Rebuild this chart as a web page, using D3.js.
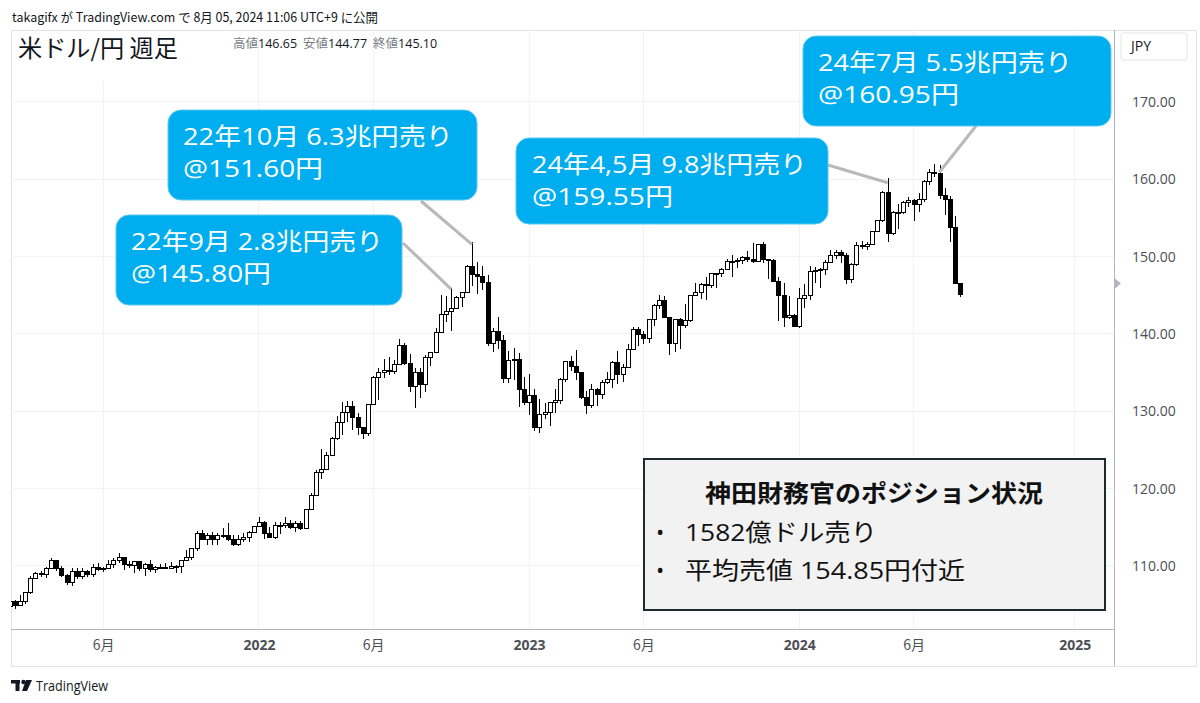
<!DOCTYPE html>
<html>
<head>
<meta charset="utf-8">
<script src="https://cdn.jsdelivr.net/npm/d3@7"></script>
<style>
  body { margin: 0; background: #fff; }
  text { font-family: "Open Sans", "Noto Sans CJK JP", sans-serif; }
  .jp { font-family: "Noto Sans CJK JP", "Open Sans", sans-serif; }
</style>
</head>
<body>
<div id="chart"></div>
<script>
// weekly USD/JPY candles, one per Monday starting here
const firstWeek = "2021-02-01";

const opens = [
  // 2021
  104.70,105.38,104.95,105.42,106.56,108.33,109.03,108.87,109.66,110.68,109.67,108.77,107.88,109.30,108.59,109.35,
  108.95,109.84,109.51,109.67,110.21,110.77,111.05,110.14,110.07,110.55,109.72,110.25,109.58,109.79,109.84,109.71,
  109.94,109.92,110.74,111.05,112.21,114.21,113.48,113.96,113.41,113.91,114.00,113.38,112.81,113.46,113.70,114.38,
  // 2022
  115.08,115.56,114.18,113.68,115.25,115.24,115.43,114.98,115.55,114.85,117.31,119.16,122.05,122.51,124.33,126.42,
  128.50,129.83,130.57,129.23,127.87,127.11,130.86,134.40,134.99,135.22,135.21,136.09,138.54,136.13,133.27,134.99,
  133.43,136.92,137.64,140.20,142.55,142.91,143.35,144.73,145.32,148.71,147.66,147.48,146.63,138.79,140.38,139.15,
  134.29,136.60,136.67,132.86,
  // 2023
  131.12,132.08,127.88,129.60,129.85,131.18,131.37,134.16,136.43,135.84,135.00,131.78,130.73,132.80,132.16,133.78,
  134.17,136.27,134.82,135.72,137.97,140.60,139.95,139.37,141.82,143.71,144.32,142.10,138.80,141.82,141.16,141.76,
  144.96,145.40,146.41,146.22,147.84,147.83,148.36,149.37,149.32,149.56,149.86,149.66,149.39,151.51,149.57,149.44,
  146.80,144.94,142.16,142.41,
  // 2024
  141.03,144.63,144.92,148.13,148.16,148.37,149.29,150.21,150.50,150.10,147.06,149.04,151.43,151.35,151.62,153.27,
  154.64,158.34,152.97,155.77,155.67,156.99,157.29,156.74,157.37,159.78,160.86,160.74,157.85,157.45,153.75,146.53
];

const highs = [
  // 2021
  105.77,105.65,106.22,106.69,108.64,109.23,109.36,109.85,110.97,110.75,109.96,108.93,109.70,109.70,109.79,109.46,
  110.20,110.33,109.82,110.82,110.97,111.66,111.05,110.70,110.60,110.59,110.37,110.80,110.01,110.25,110.42,110.45,
  110.16,110.79,112.07,112.25,114.47,114.70,114.31,114.44,114.30,114.97,115.52,113.95,113.95,114.26,114.50,115.22,
  // 2022
  116.35,115.83,114.98,115.69,115.64,116.34,115.89,115.76,115.81,117.35,119.40,122.44,125.09,124.69,126.68,129.40,
  131.25,131.35,131.34,129.79,128.00,130.98,134.56,135.59,136.71,137.00,136.58,139.39,138.88,137.46,135.59,135.58,
  137.22,137.69,140.80,144.99,144.96,145.90,144.85,145.43,148.86,151.95,149.30,148.84,147.59,140.80,142.25,139.91,
  137.86,138.18,137.48,134.50,
  // 2023
  134.78,132.87,131.58,131.12,131.20,132.90,134.35,136.52,137.10,137.91,135.11,132.65,133.53,133.02,134.06,135.14,
  136.56,137.77,136.07,138.75,140.91,140.93,140.45,141.95,143.87,145.07,144.92,142.15,142.00,142.01,143.89,144.98,
  146.57,146.64,147.37,147.87,147.95,148.47,149.71,150.16,149.83,150.08,150.78,151.72,151.56,151.92,149.75,149.69,
  147.32,146.59,144.96,142.53,
  // 2024
  145.98,146.41,148.81,148.70,148.58,149.58,150.89,150.87,150.84,150.49,149.16,151.86,151.97,151.94,153.38,154.78,
  158.44,160.21,155.95,156.78,157.19,157.71,157.50,158.25,159.93,161.28,161.95,161.80,158.86,157.86,155.22,146.65
];

const lows = [
  // 2021
  104.60,104.45,104.90,105.03,106.37,108.30,108.60,108.41,109.60,109.37,108.61,107.48,107.47,108.34,108.34,108.56,
  108.56,109.32,109.19,109.60,109.72,110.42,109.53,109.71,109.07,109.36,108.72,109.19,109.11,109.58,109.59,109.59,
  109.11,109.11,110.70,110.82,111.95,113.41,112.73,112.73,112.73,113.59,113.22,112.54,112.55,113.14,113.14,114.26,
  // 2022
  115.06,113.48,113.62,113.47,114.16,114.97,114.78,114.41,114.66,114.81,117.28,119.02,121.28,122.38,124.31,126.34,
  126.95,128.64,127.52,126.97,126.36,126.87,130.80,131.50,134.26,134.74,134.86,135.98,135.95,132.51,130.40,131.73,
  132.56,135.81,137.60,140.15,141.52,140.35,143.28,143.52,145.28,146.23,145.11,145.68,138.48,137.67,138.05,133.62,
  133.62,134.08,130.57,130.78,
  // 2023
  129.52,127.46,127.22,128.97,128.08,129.80,130.96,133.84,135.26,134.11,131.56,129.64,130.40,130.63,131.58,133.50,
  133.01,133.50,133.74,135.65,137.91,138.43,138.75,138.84,141.06,143.28,142.07,137.24,137.68,138.06,140.74,141.52,
  144.90,144.54,144.44,146.00,145.91,147.32,148.30,147.31,148.54,149.11,149.32,149.19,149.34,149.19,147.15,146.67,
  141.62,140.95,141.92,140.86,
  // 2024
  140.81,143.42,144.35,146.65,145.89,147.63,149.18,149.69,149.21,146.48,146.53,148.79,150.95,150.81,151.55,153.23,
  154.50,151.86,152.79,153.60,155.48,156.39,154.55,155.72,157.13,159.26,160.26,157.41,155.37,151.94,146.41,144.77
];

const closes = [
  // 2021
  105.38,104.95,105.42,106.56,108.33,109.03,108.87,109.66,110.68,109.67,108.77,107.88,109.30,108.59,109.35,108.95,
  109.84,109.51,109.67,110.21,110.77,111.05,110.14,110.07,110.55,109.72,110.25,109.58,109.79,109.84,109.71,109.94,
  109.92,110.74,111.05,112.21,114.21,113.48,113.96,113.41,113.91,114.00,113.38,112.81,113.46,113.70,114.38,115.08,
  // 2022
  115.56,114.18,113.68,115.25,115.24,115.43,114.98,115.55,114.85,117.31,119.16,122.05,122.51,124.33,126.42,128.50,
  129.83,130.57,129.23,127.87,127.11,130.86,134.40,134.99,135.22,135.21,136.09,138.54,136.13,133.27,134.99,133.43,
  136.92,137.64,140.20,142.55,142.91,143.35,144.73,145.32,148.71,147.66,147.48,146.63,138.79,140.38,139.15,134.29,
  136.60,136.67,132.86,131.12,
  // 2023
  132.08,127.88,129.60,129.85,131.18,131.37,134.16,136.43,135.84,135.00,131.78,130.73,132.80,132.16,133.78,134.17,
  136.27,134.82,135.72,137.97,140.60,139.95,139.37,141.82,143.71,144.32,142.10,138.80,141.82,141.16,141.76,144.96,
  145.40,146.41,146.22,147.84,147.83,148.36,149.37,149.32,149.56,149.86,149.66,149.39,151.51,149.57,149.44,146.80,
  144.94,142.16,142.41,141.03,
  // 2024
  144.63,144.92,148.13,148.16,148.37,149.29,150.21,150.50,150.10,147.06,149.04,151.43,151.35,151.62,153.27,154.64,
  158.34,152.97,155.77,155.67,156.99,157.29,156.74,157.37,159.78,160.86,160.74,157.85,157.45,153.75,146.53,145.10
];

const priceTicks = [110, 120, 130, 140, 150, 160, 170];
const timeTickDates = ["2021-06-07","2022-01-03","2022-06-06","2023-01-02","2023-06-05","2024-01-01","2024-06-03","2025-01-06"];
const timeTickLabels = ["6月","2022","6月","2023","6月","2024","6月","2025"];

const calloutTexts = [
  ["22年9月 2.8兆円売り", "@145.80円"],
  ["22年10月 6.3兆円売り", "@151.60円"],
  ["24年4,5月 9.8兆円売り", "@159.55円"],
  ["24年7月 5.5兆円売り", "@160.95円"]
];
const calloutWeeks = ["2022-09-19", "2022-10-17", "2024-04-29", "2024-07-08"];
const calloutPrices = [145.80, 151.60, 159.55, 160.95];

const legendLabels = ["高値", "安値", "終値"];
const legendValues = ["146.65", "144.77", "145.10"];

const infoTitle = "神田財務官のポジション状況";
const infoItems = ["1582億ドル売り", "平均売値 154.85円付近"];

const Chart = {
  width: 1200,
  height: 703,
  plot: { left: 11, right: 1114, top: 30, bottom: 629 },
  frameBottom: 666,
  frameRight: 1196,
  gridColor: "#f0f3fa",
  axisColor: "#b2b5be",
  labelColor: "#4c4f57",
  calloutColor: "#00aeef",

  parameters() {
    const parse = d3.timeParse("%Y-%m-%d");
    const start = parse(firstWeek);
    this.weeks = d3.timeMonday.range(start, d3.timeDay.offset(start, 7 * closes.length));
    this.data = this.weeks.map((w, i) => ({
      date: w, open: opens[i], high: highs[i], low: lows[i], close: closes[i]
    }));
    this.parse = parse;
  },
  createScales() {
    this.xScale = d3.scaleTime()
      .domain([new Date(2021, 1, 3), new Date(2025, 1, 28)])
      .range([this.plot.left, this.plot.right]);
    this.yScale = d3.scaleLinear()
      .domain([101.85, 179.31])
      .range([this.plot.bottom, this.plot.top]);
  },
  drawBase() {
    this.svg = d3.select("#chart").append("svg")
      .attr("width", this.width)
      .attr("height", this.height);
    this.svg.append("rect").attr("width", this.width).attr("height", this.height).attr("fill", "#fff");

    this.svg.append("text")
      .attr("class", "jp")
      .attr("x", 12).attr("y", 22)
      .attr("font-size", 13).attr("fill", "#131722")
      .attr("textLength", 366).attr("lengthAdjust", "spacingAndGlyphs")
      .text("takagifx が TradingView.com で 8月 05, 2024 11:06 UTC+9 に公開");

    // outer frame
    this.svg.append("rect")
      .attr("x", this.plot.left).attr("y", this.plot.top)
      .attr("width", this.frameRight - this.plot.left)
      .attr("height", this.frameBottom - this.plot.top)
      .attr("fill", "none").attr("stroke", "#e0e3eb").attr("shape-rendering", "crispEdges");

    this.svg.append("defs").append("clipPath").attr("id", "plotClip")
      .append("rect")
      .attr("x", this.plot.left).attr("y", this.plot.top)
      .attr("width", this.plot.right - this.plot.left)
      .attr("height", this.plot.bottom - this.plot.top);
  },
  drawGrid() {
    const g = this.svg.append("g").attr("shape-rendering", "crispEdges");
    g.selectAll(".hgrid").data(priceTicks).enter().append("line")
      .attr("x1", this.plot.left).attr("x2", this.plot.right)
      .attr("y1", d => this.yScale(d)).attr("y2", d => this.yScale(d))
      .attr("stroke", this.gridColor);
    g.selectAll(".vgrid").data(timeTickDates).enter().append("line")
      .attr("x1", d => this.xScale(this.parse(d))).attr("x2", d => this.xScale(this.parse(d)))
      .attr("y1", this.plot.top).attr("y2", this.plot.bottom)
      .attr("stroke", this.gridColor);
  },
  drawAxes() {
    const yAxis = d3.axisRight(this.yScale)
      .tickValues(priceTicks)
      .tickSize(0)
      .tickPadding(18)
      .tickFormat(d3.format(".2f"));
    const ya = this.svg.append("g")
      .attr("transform", `translate(${this.plot.right},0)`)
      .call(yAxis);
    ya.select(".domain").remove();
    ya.selectAll("text").attr("font-size", 14).attr("fill", this.labelColor).attr("font-family", "Open Sans");

    const xAxis = d3.axisBottom(this.xScale)
      .tickValues(timeTickDates.map(this.parse))
      .tickSize(0)
      .tickPadding(11)
      .tickFormat((d, i) => timeTickLabels[i]);
    const xa = this.svg.append("g")
      .attr("transform", `translate(0,${this.plot.bottom})`)
      .call(xAxis);
    xa.select(".domain").remove();
    xa.selectAll("text")
      .attr("font-size", 14).attr("fill", this.labelColor)
      .attr("class", (d, i) => timeTickLabels[i].includes("月") ? "jp" : null)
      .attr("font-weight", (d, i) => timeTickLabels[i].includes("月") ? 400 : 700);

    // axis separators
    this.svg.append("line")
      .attr("x1", this.plot.left).attr("x2", this.plot.right)
      .attr("y1", this.plot.bottom).attr("y2", this.plot.bottom)
      .attr("stroke", this.axisColor).attr("shape-rendering", "crispEdges");
    this.svg.append("line")
      .attr("x1", this.plot.right).attr("x2", this.plot.right)
      .attr("y1", this.plot.top).attr("y2", this.frameBottom)
      .attr("stroke", this.axisColor).attr("shape-rendering", "crispEdges");

    // currency box
    this.svg.append("rect")
      .attr("x", 1121).attr("y", 33).attr("width", 66).attr("height", 27).attr("rx", 3)
      .attr("fill", "#fff").attr("stroke", "#e0e3eb");
    this.svg.append("text")
      .attr("x", 1131).attr("y", 51)
      .attr("font-size", 14).attr("fill", "#131722")
      .text("JPY");

    // last price marker
    const last = this.data[this.data.length - 1];
    const ym = this.yScale(last.open);
    this.svg.append("path")
      .attr("d", `M${this.plot.right + 1},${ym - 5}L${this.plot.right + 7},${ym}L${this.plot.right + 1},${ym + 5}Z`)
      .attr("fill", "#b2b5be");
  },
  drawCandles() {
    const x = this.xScale, y = this.yScale;
    const g = this.svg.append("g")
      .attr("clip-path", "url(#plotClip)")
      .attr("shape-rendering", "crispEdges");

    const candle = g.selectAll(".candle").data(this.data).enter().append("g");
    candle.append("line")
      .attr("x1", d => Math.round(x(d.date)) + 0.5).attr("x2", d => Math.round(x(d.date)) + 0.5)
      .attr("y1", d => y(d.high)).attr("y2", d => y(d.low))
      .attr("stroke", "#000").attr("stroke-width", 1);
    candle.append("rect")
      .attr("x", d => Math.round(x(d.date)) - 1.5)
      .attr("width", 4)
      .attr("y", d => y(Math.max(d.open, d.close)))
      .attr("height", d => Math.max(1, Math.abs(y(d.open) - y(d.close))))
      .attr("fill", d => d.close >= d.open ? "#fff" : "#000")
      .attr("stroke", "#000").attr("stroke-width", 1);
  },
  drawLegend() {
    // white tag behind the title hides the grid
    this.svg.append("rect")
      .attr("x", this.plot.left + 1).attr("y", this.plot.top + 1)
      .attr("width", 186).attr("height", 50).attr("fill", "#fff");
    this.svg.append("text")
      .attr("class", "jp")
      .attr("x", 18).attr("y", 57)
      .attr("font-size", 24).attr("fill", "#131722")
      .attr("textLength", 160).attr("lengthAdjust", "spacingAndGlyphs")
      .text("米ドル/円 週足");

    const t = this.svg.append("text")
      .attr("x", 233).attr("y", 48)
      .attr("font-size", 12.5);
    legendLabels.forEach((lab, i) => {
      t.append("tspan").attr("class", "jp").attr("fill", "#787b86")
        .attr("dx", i === 0 ? 0 : 6).text(lab);
      t.append("tspan").attr("fill", "#131722").text(legendValues[i]);
    });
  },
  drawCallouts() {
    const boxes = [
      { x: 116, y: 215, w: 286, h: 90, tx: 131, lens: [252, 140], lineFrom: [403, 243] },
      { x: 168, y: 110, w: 309, h: 90, tx: 183, lens: [270, 140], lineFrom: [421, 201] },
      { x: 516, y: 138, w: 312, h: 86, tx: 532, lens: [275, 141], lineFrom: [828, 165] },
      { x: 803, y: 36, w: 308, h: 90, tx: 818, lens: [254, 141], lineFrom: [976, 126] }
    ];
    const lineG = this.svg.append("g");
    boxes.forEach((b, i) => {
      const ax = this.xScale(this.parse(calloutWeeks[i]));
      const ay = this.yScale(calloutPrices[i]);
      lineG.append("line")
        .attr("x1", b.lineFrom[0]).attr("y1", b.lineFrom[1])
        .attr("x2", ax).attr("y2", ay)
        .attr("stroke", "#b9b9b9").attr("stroke-width", 3);
    });
    const boxG = this.svg.append("g");
    boxes.forEach((b, i) => {
      boxG.append("rect")
        .attr("x", b.x).attr("y", b.y).attr("width", b.w).attr("height", b.h)
        .attr("rx", 13)
        .attr("fill", this.calloutColor)
        .attr("stroke", "#5cc8f2").attr("stroke-width", 1);
      calloutTexts[i].forEach((line, j) => {
        boxG.append("text")
          .attr("x", b.tx).attr("y", b.y + 35 + j * 32)
          .attr("font-size", 23.5).attr("fill", "#fff")
          .attr("textLength", b.lens[j]).attr("lengthAdjust", "spacingAndGlyphs")
          .text(line);
      });
    });
  },
  drawInfoBox() {
    const g = this.svg.append("g");
    g.append("rect")
      .attr("x", 644).attr("y", 459).attr("width", 461).attr("height", 151)
      .attr("fill", "#f2f2f2").attr("stroke", "#1d2b2b").attr("stroke-width", 2);
    g.append("text")
      .attr("class", "jp")
      .attr("x", 705).attr("y", 502)
      .attr("font-size", 24).attr("font-weight", 700).attr("fill", "#111")
      .attr("textLength", 338).attr("lengthAdjust", "spacingAndGlyphs")
      .text(infoTitle);
    const itemLens = [192, 280];
    infoItems.forEach((item, i) => {
      g.append("text")
        .attr("x", 656).attr("y", 540 + i * 38)
        .attr("font-size", 22).attr("fill", "#111")
        .text("•");
      g.append("text")
        .attr("x", 685).attr("y", 541 + i * 38)
        .attr("font-size", 24).attr("fill", "#111")
        .attr("textLength", itemLens[i]).attr("lengthAdjust", "spacingAndGlyphs")
        .text(item);
    });
  },
  drawFooter() {
    const g = this.svg.append("g").attr("fill", "#131722");
    // simplified TradingView mark
    g.append("rect").attr("x", 11).attr("y", 680).attr("width", 9).attr("height", 3.5);
    g.append("rect").attr("x", 15.5).attr("y", 680).attr("width", 4).attr("height", 11);
    g.append("circle").attr("cx", 23.5).attr("cy", 682).attr("r", 2.2);
    g.append("path").attr("d", "M26,680 L32,680 L27,691 L22,691 Z");
    g.append("text")
      .attr("x", 36).attr("y", 691)
      .attr("font-size", 15)
      .attr("textLength", 72).attr("lengthAdjust", "spacingAndGlyphs")
      .text("TradingView");
  },
  draw() {
    this.parameters();
    this.createScales();
    this.drawBase();
    this.drawGrid();
    this.drawCandles();
    this.drawAxes();
    this.drawLegend();
    this.drawCallouts();
    this.drawInfoBox();
    this.drawFooter();
  }
};

Chart.draw();
</script>
</body>
</html>
